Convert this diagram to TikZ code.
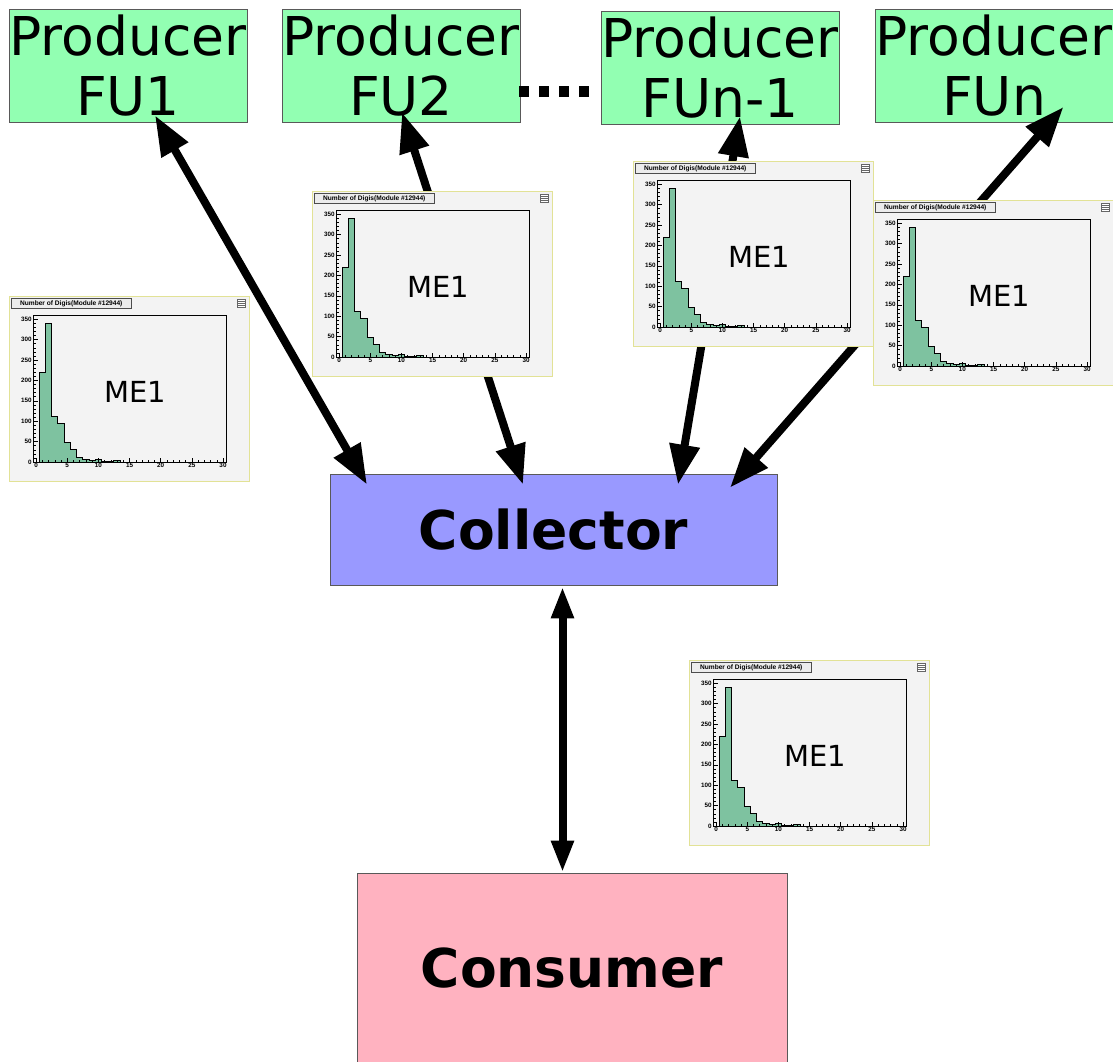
\documentclass[tikz,border=0pt]{standalone}
\usepackage{fontspec}
\setmainfont{DejaVu Sans}
\newfontfamily\rootfont{Liberation Sans}
\usetikzlibrary{arrows.meta,calc}
\definecolor{prodgreen}{RGB}{146,255,178}
\definecolor{collblue}{RGB}{153,153,255}
\definecolor{conspink}{RGB}{255,178,192}
\definecolor{panelbg}{RGB}{243,243,243}
\definecolor{panelborder}{RGB}{226,226,150}
\definecolor{titlebg}{RGB}{236,236,236}
\definecolor{histfill}{RGB}{126,194,160}
\tikzset{
  prod/.style={draw=black!65, fill=prodgreen, line width=0.8pt, minimum width=238pt, minimum height=113pt, inner sep=0pt, align=center, font=\fontsize{53.5}{60}\selectfont},
  bigbox/.style={draw=black!65, line width=0.8pt, inner sep=0pt, font=\bfseries\fontsize{53.5}{60}\selectfont},
  conn/.style={line width=8pt, arrows={Triangle[length=40pt,width=29pt]-Triangle[length=40pt,width=29pt]}},
  vconn/.style={line width=8pt, arrows={Triangle[length=32pt,width=21pt]-Triangle[length=32pt,width=21pt]}},
  dotline/.style={line width=11pt, dash pattern=on 10pt off 10pt},
  titlefont/.style={inner sep=0pt, font=\rootfont\bfseries\fontsize{6.6}{6.6}\selectfont},
  ticklab/.style={inner sep=0.5pt, font=\rootfont\bfseries\fontsize{6.3}{6.3}\selectfont},
  mefont/.style={inner sep=0pt, font=\fontsize{29}{29}\selectfont}
}
\newcommand\mepanel[3]{%
\begin{scope}[shift={(#2,#3)}]
  \draw[fill=panelbg, draw=panelborder, line width=0.9pt] (0,0) rectangle (240,185);
  \draw[fill=titlebg, draw=black!70, line width=0.6pt] (2.5,2.5) rectangle (122,12.5);
  \node[titlefont] (#1title) at (62.25,7.5) {Number of Digis(Module \#12944)};
  \draw[fill=white, draw=black!60, line width=0.4pt] (228.5,3) rectangle (236,11.5);
  \foreach \yy in {5.5,7.5,9.5} \draw[black!60, line width=0.3pt] (228.5,\yy) -- (236,\yy);
  \begin{scope}[shift={(27.1,166)}]
    \begin{scope}[x=6.23pt, y=0.408pt]
      \filldraw[fill=histfill, draw=black, line width=1pt]
        (0.5,0) -- (0.5,220) -- (1.5,220) -- (1.5,340) -- (2.5,340) -- (2.5,112)
        -- (3.5,112) -- (3.5,95) -- (4.5,95) -- (4.5,48) -- (5.5,48) -- (5.5,30)
        -- (6.5,30) -- (6.5,12) -- (7.5,12) -- (7.5,6) -- (8.5,6) -- (8.5,3)
        -- (9.5,3) -- (9.5,7) -- (10.5,7) -- (10.5,1) -- (12.5,1) -- (12.5,3)
        -- (13.5,3) -- (13.5,0) -- cycle;
    \end{scope}
  \end{scope}
  \draw[black, line width=0.9pt] (24,19.7) rectangle (217.3,166);
  \foreach \v in {0,...,30}{%
    \pgfmathsetmacro\tl{ifthenelse(mod(\v,5)==0,4.5,2.5)}%
    \draw[line width=0.5pt] ({27.1+6.23*\v},166) -- ++(0,-\tl);}
  \foreach \c in {0,10,...,350}{%
    \pgfmathsetmacro\tl{ifthenelse(mod(\c,50)==0,4.5,2.5)}%
    \draw[line width=0.5pt] (24,{166-0.408*\c}) -- ++(\tl,0);}
  \foreach \v in {0,5,...,30} \node[ticklab, anchor=north] (#1x\v) at ({27.1+6.23*\v},166.8) {\v};
  \foreach \c in {0,50,...,350} \node[ticklab, anchor=east] (#1y\c) at (23.3,{166-0.408*\c}) {\c};
  \node[mefont] (#1) at (126,96) {ME1};
\end{scope}}
\begin{document}
\begin{tikzpicture}[x=1pt, y=-1pt]
\useasboundingbox (0,0) rectangle (1113,1061);
% boxes
\node[prod] (FU1) at (128,65.5) {Producer\\FU1};
\node[prod] (FU2) at (401,65.5) {Producer\\FU2};
\node[prod] (FUn1) at (720,67.5) {Producer\\FUn-1};
\node[prod] (FUn) at (994,66) {Producer\\FUn};
\node[bigbox, fill=collblue, minimum width=447pt, minimum height=111pt] (Collector) at (553.5,529.5) {Collector};
\node[bigbox, fill=conspink, minimum width=430pt, minimum height=191pt] (Consumer) at (572,968.5) {Consumer};
% dots
\coordinate (dotsA) at (519,91.5);
\coordinate (dotsB) at (590,91.5);
\draw[dotline] (dotsA) -- (dotsB);
% connectors
\draw[conn] ($(FU1.south)+(27,-7)$) -- ($(Collector.north)+(-186.5,11)$);
\draw[conn] ($(FU2.south)+(1,-10)$) -- ($(Collector.north)+(-30.5,11)$);
\draw[conn] ($(FUn1.south)+(20,-8)$) -- ($(Collector.north)+(124.5,11)$);
\draw[conn] ($(FUn.south)+(69.5,-16)$) -- ($(Collector.north)+(176.5,14)$);
\draw[vconn] ($(Collector.south)+(9,1)$) -- ($(Consumer.north)+(-9.5,0)$);
% monitor element panels
\mepanel{MEa}{9}{296}
\mepanel{MEb}{312}{191}
\mepanel{MEc}{633}{161}
\mepanel{MEd}{873}{200}
\mepanel{MEe}{689}{660}
\end{tikzpicture}
\end{document}
